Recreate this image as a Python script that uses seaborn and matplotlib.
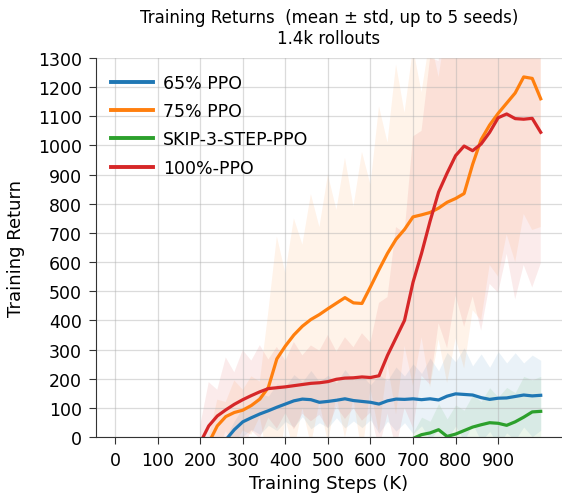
import numpy as np
import pandas as pd
import matplotlib
matplotlib.use("Agg")
import matplotlib.pyplot as plt
import seaborn as sns

# ---------------- data ----------------
labels = ["65% PPO", "75% PPO", "SKIP-3-STEP-PPO", "100%-PPO"]
colors = ["#1f77b4", "#ff7f0e", "#2ca02c", "#d62728"]

# 65% PPO
x_65 = list(range(260, 1001, 20))
mean_65 = [-10, 25, 52, 66, 79, 90, 102, 113, 124, 130,
           128, 119, 122, 126, 131, 125, 122, 119, 113, 124,
           130, 129, 131, 128, 131, 127, 140, 148, 146, 144,
           135, 129, 133, 134, 139, 144, 141, 143]
std_65 = [10, 30, 50, 40, 70, 50, 80, 60, 90, 60,
          100, 70, 90, 60, 100, 70, 90, 60, 100, 70,
          110, 80, 120, 90, 140, 100, 150, 110, 160, 100,
          150, 110, 160, 120, 150, 110, 140, 120]

# 75% PPO
x_75 = list(range(220, 1001, 20))
mean_75 = [-20, 38, 70, 84, 92, 108, 130, 170, 268, 312,
           350, 380, 403, 420, 440, 459, 478, 460, 458, 515,
           574, 630, 678, 712, 755, 762, 770, 785, 805, 818,
           835, 935, 1020, 1070, 1110, 1145, 1180, 1235, 1230, 1160]
std_75 = [20, 90, 50, 110, 70, 100, 60, 260, 420, 250,
          400, 280, 430, 300, 460, 320, 480, 330, 520, 350,
          560, 380, 600, 400, 580, 420, 600, 450, 620, 480,
          600, 500, 620, 480, 560, 450, 580, 470, 520, 440]

# SKIP-3-STEP-PPO
x_skip = list(range(700, 1001, 20))
mean_skip = [-5, 8, 14, 25, 2, 10, 22, 34, 42, 49, 47, 40, 52, 68, 86, 88]
std_skip = [20, 60, 40, 90, 60, 100, 70, 110, 80, 120, 90, 130, 100, 140, 110, 120]

# 100%-PPO
x_100 = list(range(200, 1001, 20))
mean_100 = [-20, 38, 72, 93, 112, 128, 142, 155, 166, 169,
            172, 176, 180, 184, 186, 190, 198, 202, 203, 206,
            204, 210, 280, 340, 400, 531, 630, 740, 840, 905,
            965, 998, 982, 1005, 1045, 1095, 1108, 1092, 1090, 1093,
            1045]
std_100 = [60, 150, 90, 180, 110, 170, 120, 160, 100, 140,
           90, 150, 100, 130, 110, 160, 95, 140, 105, 150,
           120, 250, 200, 380, 300, 500, 420, 560, 450, 600,
           480, 620, 500, 640, 520, 600, 480, 620, 500, 580,
           450]

xticks = list(range(0, 1000, 100))
yticks = list(range(0, 1301, 100))

# ---------------- build frame ----------------
series = [(labels[0], x_65, mean_65, std_65),
          (labels[1], x_75, mean_75, std_75),
          (labels[2], x_skip, mean_skip, std_skip),
          (labels[3], x_100, mean_100, std_100)]
rows = []
for name, xs, ms, ss in series:
    for xv, mv, sv in zip(xs, ms, ss):
        rows.append({"step": xv, "ret": mv, "std": sv, "run": name})
df = pd.DataFrame(rows)

plt.rcParams["font.family"] = ["DejaVu Sans"]

fig = plt.figure(figsize=(5.62, 5.02), dpi=100)
ax = fig.add_axes([0.170, 0.1275, 0.83, 0.755])

palette = dict(zip(labels, colors))
for name, xs, ms, ss in series:
    m = np.array(ms, dtype=float)
    s = np.array(ss, dtype=float)
    ax.fill_between(xs, m - s, m + s, color=palette[name], alpha=0.09, lw=0)

sns.lineplot(data=df, x="step", y="ret", hue="run", hue_order=labels,
             palette=palette, errorbar=None, lw=2.3, ax=ax)

ax.set_xlim(-46, 1050)
ax.set_ylim(0, 1300)
ax.set_xticks(xticks)
ax.set_yticks(yticks)
ax.tick_params(labelsize=12.5, length=5, pad=5, color="#333333")
ax.grid(True, color="#b0b0b0", alpha=0.45, lw=0.9)
sns.despine(ax=ax)
for sp in ax.spines.values():
    sp.set_color("#333333")

ax.set_xlabel("Training Steps (K)", fontsize=13)
ax.set_ylabel("Training Return", fontsize=13, labelpad=9)
ax.set_title("Training Returns  (mean \u00b1 std, up to 5 seeds)\n1.4k rollouts",
             fontsize=12, pad=11)

leg = ax.legend(loc="upper left", frameon=False, fontsize=12.5,
                handlelength=2.4, handletextpad=0.6, labelspacing=0.6)
for h in leg.get_lines():
    h.set_linewidth(2.8)

fig.savefig("out.png", dpi=100)
